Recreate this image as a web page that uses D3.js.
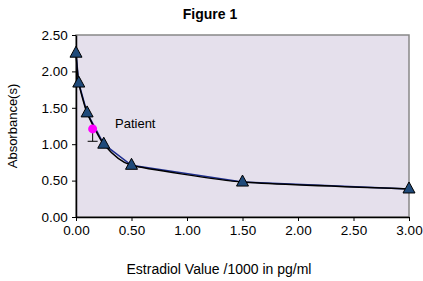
<!DOCTYPE html>
<html>
<head>
<meta charset="utf-8">
<script src="https://cdn.jsdelivr.net/npm/d3@7"></script>
<style>
  body { margin: 0; background: #fff; }
  svg { display: block; font-family: "Liberation Sans", Arial, sans-serif; }
</style>
</head>
<body>
<div id="chart"></div>
<script>
const concentrations = [0, 0.025, 0.1, 0.25, 0.5, 1.5, 3.0];
const absorbances = [2.25, 1.84, 1.43, 1.0, 0.71, 0.48, 0.385];
const patientConc = [0.15];
const patientAbs = [1.21];
const patientErrLow = [1.04];
const xTicks = [0, 0.5, 1, 1.5, 2, 2.5, 3];
const yTicks = [0, 0.5, 1, 1.5, 2, 2.5];

const width = 423;
const height = 281;
const margin = {top: 35, right: 14, bottom: 64, left: 76};

const svg = d3.select("#chart")
  .append("svg")
  .attr("width", width)
  .attr("height", height);

const x = d3.scaleLinear()
  .domain([0, 3])
  .range([margin.left, width - margin.right]);
const y = d3.scaleLinear()
  .domain([0, 2.5])
  .range([height - margin.bottom, margin.top]);

const data = concentrations.map((c, i) => ({x: c, y: absorbances[i]}));

// plot area
svg.append("rect")
  .attr("x", x(0))
  .attr("y", y(2.5))
  .attr("width", x(3) - x(0))
  .attr("height", y(0) - y(2.5))
  .attr("fill", "#E5E0EC")
  .attr("stroke", "#888")
  .attr("stroke-width", 1.5);

// axes
const xAxis = svg.append("g")
  .attr("transform", `translate(0,${y(0)})`)
  .call(d3.axisBottom(x).tickValues(xTicks).tickFormat(d3.format(".2f")).tickSize(4).tickSizeOuter(0));
const yAxis = svg.append("g")
  .attr("transform", `translate(${x(0)},0)`)
  .call(d3.axisLeft(y).tickValues(yTicks).tickFormat(d3.format(".2f")).tickSize(4).tickSizeOuter(0));
[xAxis, yAxis].forEach(g => {
  g.select(".domain").attr("stroke", "#000").attr("stroke-width", 1.5);
  g.selectAll(".tick line").attr("stroke", "#000");
  g.selectAll("text").attr("font-size", 13.5).attr("fill", "#000")
    .attr("font-family", "Liberation Sans, Arial, sans-serif");
});
xAxis.selectAll("text").attr("dy", "0.85em");
yAxis.selectAll("text").attr("dx", "-0.1em");

// series line (navy) and smooth curve (black)
svg.append("path")
  .datum(data)
  .attr("fill", "none")
  .attr("stroke", "#1F2F8F")
  .attr("stroke-width", 1.5)
  .attr("d", d3.line().x(d => x(d.x)).y(d => y(d.y)));
svg.append("path")
  .datum(data)
  .attr("fill", "none")
  .attr("stroke", "#000")
  .attr("stroke-width", 1.5)
  .attr("d", d3.line().x(d => x(d.x)).y(d => y(d.y)).curve(d3.curveCardinal.tension(0.5)));

// markers
svg.selectAll(".tri")
  .data(data)
  .join("path")
  .attr("class", "tri")
  .attr("transform", d => `translate(${x(d.x)},${y(d.y) - 1})`)
  .attr("d", "M0,-6L6,5L-6,5Z")
  .attr("fill", "#1F4A7A")
  .attr("stroke", "#000")
  .attr("stroke-width", 1);

// patient
patientConc.forEach((c, i) => {
  svg.append("line")
    .attr("x1", x(c)).attr("x2", x(c))
    .attr("y1", y(patientAbs[i])).attr("y2", y(patientErrLow[i]))
    .attr("stroke", "#000").attr("stroke-width", 1);
  svg.append("line")
    .attr("x1", x(c) - 5).attr("x2", x(c) + 5)
    .attr("y1", y(patientErrLow[i])).attr("y2", y(patientErrLow[i]))
    .attr("stroke", "#000").attr("stroke-width", 1);
  svg.append("circle")
    .attr("cx", x(c)).attr("cy", y(patientAbs[i]))
    .attr("r", 4.5)
    .attr("fill", "#FF00FF");
});
svg.append("text")
  .attr("x", 115).attr("y", 128)
  .attr("font-size", 13)
  .text("Patient");

// titles
svg.append("text")
  .attr("x", 210).attr("y", 19)
  .attr("text-anchor", "middle")
  .attr("font-size", 14)
  .attr("font-weight", "bold")
  .text("Figure 1");
svg.append("text")
  .attr("x", 219).attr("y", 274)
  .attr("text-anchor", "middle")
  .attr("font-size", 14)
  .text("Estradiol Value /1000 in pg/ml");
svg.append("text")
  .attr("transform", `translate(17,${(y(0) + y(2.5)) / 2}) rotate(-90)`)
  .attr("text-anchor", "middle")
  .attr("font-size", 13)
  .text("Absorbance(s)");
</script>
</body>
</html>
